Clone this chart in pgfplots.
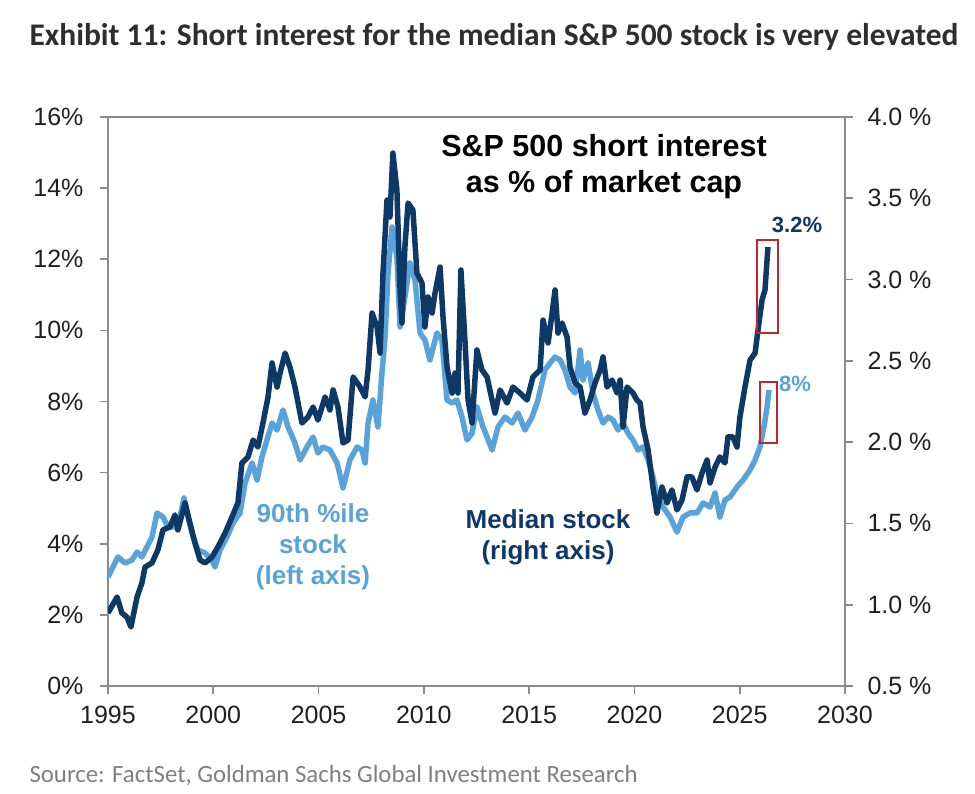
\documentclass[border=0pt]{standalone}
\usepackage{pgfplots}
\pgfplotsset{compat=1.18}
\usepackage{fontspec}
\setmainfont{Liberation Sans}
\newfontfamily\carlito{Carlito}
\definecolor{navy}{HTML}{0E3866}
\definecolor{lblue}{HTML}{5AA3DA}
\definecolor{boxred}{HTML}{C0272D}
\definecolor{axgray}{HTML}{8C8C8C}
\definecolor{titlegray}{HTML}{2E2E2E}
\definecolor{srcgray}{HTML}{7F7F7F}
\begin{document}
\begin{tikzpicture}
\path[use as bounding box] (-108pt,-107pt) rectangle (867pt,686pt);
\pgfplotsset{
  common/.style={
    scale only axis, width=737pt, height=569pt,
    xmin=1995, xmax=2030,
    axis line style={axgray, line width=1.6pt},
    major tick style={axgray, line width=1.6pt},
    tick align=outside, major tick length=8pt,
    ticklabel style={font=\fontsize{25}{25}\selectfont, text=black!88},
  }
}
\begin{axis}[common,
  ymin=0, ymax=16,
  xtick={1995,2000,2005,2010,2015,2020,2025,2030},
  xticklabels={1995,2000,2005,2010,2015,2020,2025,2030},
  ytick={0,2,4,6,8,10,12,14,16},
  yticklabels={0\%,2\%,4\%,6\%,8\%,10\%,12\%,14\%,16\%},
  xtick pos=bottom, ytick pos=left,
  yticklabel style={xshift=-13pt},
  xticklabel style={yshift=-9pt},
]
\addplot[lblue, line width=5.5pt, line join=round] coordinates {
(1995.00,3.065) (1995.47,3.627) (1995.81,3.459) (1996.14,3.543) (1996.38,3.768)
(1996.61,3.627) (1996.85,3.909) (1997.09,4.190) (1997.33,4.865) (1997.61,4.752)
(1997.85,4.471) (1998.18,4.471) (1998.42,4.752) (1998.61,5.287) (1998.80,4.752)
(1999.04,4.190) (1999.27,3.824) (1999.61,3.740) (1999.94,3.543) (2000.08,3.346)
(2000.32,3.824) (2000.65,4.190) (2000.94,4.584) (2001.27,4.865) (2001.51,5.708)
(2001.84,6.271) (2002.08,5.793) (2002.31,6.439) (2002.55,6.918) (2002.79,7.396)
(2003.03,7.199) (2003.31,7.761) (2003.55,7.283) (2003.88,6.833) (2004.12,6.355)
(2004.45,6.721) (2004.74,7.002) (2004.97,6.552) (2005.21,6.721) (2005.54,6.636)
(2005.88,6.271) (2006.16,5.568) (2006.49,6.355) (2006.83,6.721) (2007.06,6.636)
(2007.21,6.271) (2007.35,7.396) (2007.58,8.042) (2007.82,7.283) (2008.01,8.802)
(2008.15,9.730) (2008.30,11.614) (2008.49,12.907) (2008.72,12.063) (2008.87,10.095)
(2009.10,10.939) (2009.34,11.895) (2009.58,11.417) (2009.82,9.926) (2010.05,9.730)
(2010.29,9.167) (2010.62,9.926) (2010.86,9.730) (2011.10,8.042) (2011.34,7.958)
(2011.57,8.042) (2011.81,7.564) (2012.05,6.918) (2012.29,7.114) (2012.52,7.845)
(2012.81,7.283) (2013.00,7.002) (2013.24,6.636) (2013.52,7.283) (2013.85,7.564)
(2014.19,7.396) (2014.47,7.677) (2014.80,7.199) (2015.14,7.564) (2015.42,8.042)
(2015.75,8.886) (2015.99,9.083) (2016.23,9.251) (2016.47,9.167) (2016.70,8.886)
(2016.94,8.408) (2017.18,8.239) (2017.42,9.448) (2017.56,8.605) (2017.80,9.083)
(2018.03,8.239) (2018.27,7.761) (2018.51,7.396) (2018.75,7.564) (2018.98,7.480)
(2019.22,7.199) (2019.46,7.396) (2019.69,7.114) (2019.93,6.918) (2020.17,6.636)
(2020.41,6.721) (2020.65,6.355) (2020.88,5.877) (2021.07,5.371) (2021.36,5.033)
(2021.69,4.752) (2022.02,4.330) (2022.31,4.752) (2022.64,4.865) (2022.97,4.865)
(2023.26,5.146) (2023.59,5.033) (2023.83,5.427) (2024.06,4.752) (2024.30,5.230)
(2024.54,5.315) (2024.87,5.596) (2025.16,5.793) (2025.49,6.074) (2025.73,6.355)
(2025.96,6.721) (2026.15,7.283) (2026.30,7.845) (2026.39,8.324)
};
\draw[boxred, line width=1.5pt] (axis cs:2025.96,6.83) rectangle (axis cs:2026.77,8.55);
\node[text=lblue, font=\fontsize{22}{22}\selectfont\bfseries] at (axis cs:2027.63,8.49) {8\%};
\end{axis}
\begin{axis}[common,
  ymin=0.5, ymax=4.0,
  axis y line*=right, axis x line=none,
  ytick={0.5,1.0,1.5,2.0,2.5,3.0,3.5,4.0},
  yticklabels={0.5 \%,1.0 \%,1.5 \%,2.0 \%,2.5 \%,3.0 \%,3.5 \%,4.0 \%},
  yticklabel style={xshift=11pt},
]
\addplot[navy, line width=5.5pt, line join=round] coordinates {
(1995.00,0.949) (1995.43,1.047) (1995.66,0.949) (1995.90,0.924) (1996.09,0.863)
(1996.38,1.047) (1996.61,1.134) (1996.76,1.232) (1997.09,1.257) (1997.37,1.337)
(1997.61,1.460) (1997.94,1.478) (1998.18,1.552) (1998.32,1.460) (1998.66,1.626)
(1998.89,1.503) (1999.13,1.380) (1999.37,1.275) (1999.61,1.257) (1999.94,1.293)
(2000.22,1.355) (2000.56,1.441) (2000.89,1.540) (2001.17,1.626) (2001.36,1.872)
(2001.65,1.909) (2001.89,2.013) (2002.12,1.970) (2002.36,2.118) (2002.60,2.278)
(2002.79,2.487) (2003.03,2.339) (2003.17,2.425) (2003.41,2.548) (2003.64,2.462)
(2003.88,2.339) (2004.21,2.118) (2004.50,2.155) (2004.74,2.216) (2004.97,2.136)
(2005.31,2.278) (2005.54,2.198) (2005.69,2.321) (2005.92,2.216) (2006.16,1.995)
(2006.40,2.013) (2006.64,2.401) (2006.97,2.339) (2007.21,2.278) (2007.35,2.444)
(2007.54,2.794) (2007.78,2.708) (2007.92,2.548) (2008.06,3.040) (2008.25,3.489)
(2008.39,3.385) (2008.53,3.778) (2008.72,3.551) (2008.87,2.936) (2008.96,2.733)
(2009.10,3.200) (2009.25,3.471) (2009.48,3.428) (2009.67,3.040) (2009.91,2.979)
(2010.05,2.708) (2010.20,2.893) (2010.39,2.794) (2010.53,2.917) (2010.77,3.077)
(2010.91,2.770) (2011.10,2.462) (2011.34,2.302) (2011.48,2.425) (2011.62,2.302)
(2011.76,3.059) (2011.95,2.628) (2012.10,2.259) (2012.29,2.118) (2012.52,2.567)
(2012.76,2.444) (2013.00,2.401) (2013.24,2.259) (2013.38,2.179) (2013.62,2.321)
(2013.95,2.241) (2014.23,2.339) (2014.57,2.302) (2014.90,2.259) (2015.18,2.401)
(2015.52,2.444) (2015.66,2.751) (2015.90,2.610) (2016.09,2.794) (2016.23,2.936)
(2016.37,2.671) (2016.56,2.733) (2016.80,2.647) (2016.94,2.462) (2017.18,2.364)
(2017.42,2.339) (2017.65,2.179) (2017.89,2.259) (2018.13,2.364) (2018.37,2.444)
(2018.51,2.524) (2018.70,2.339) (2018.94,2.382) (2019.17,2.302) (2019.32,2.382)
(2019.46,2.093) (2019.65,2.339) (2019.93,2.302) (2020.12,2.259) (2020.27,2.241)
(2020.41,2.093) (2020.65,1.952) (2020.88,1.724) (2021.07,1.564) (2021.31,1.724)
(2021.55,1.626) (2021.78,1.706) (2022.02,1.583) (2022.26,1.644) (2022.50,1.786)
(2022.73,1.786) (2022.97,1.706) (2023.21,1.810) (2023.45,1.890) (2023.59,1.749)
(2023.83,1.847) (2024.06,1.909) (2024.30,1.872) (2024.44,2.032) (2024.68,2.032)
(2024.87,1.970) (2025.01,2.155) (2025.25,2.339) (2025.49,2.505) (2025.73,2.548)
(2025.87,2.690) (2026.06,2.874) (2026.20,2.936) (2026.34,3.200)
};
\draw[boxred, line width=1.5pt] (axis cs:2025.82,2.671) rectangle (axis cs:2026.81,3.243);
\node[text=navy, font=\fontsize{22}{22}\selectfont\bfseries] at (axis cs:2027.72,3.336) {3.2\%};
\end{axis}
% titles and annotations (absolute positions, pt relative to plot area origin)
\node[anchor=west, text=titlegray, font=\carlito\bfseries\fontsize{31.5}{31.5}\selectfont] at (-82pt,649pt) {Exhibit 11: Short interest for the median S\&P 500 stock is very elevated};
\node[anchor=west, text=srcgray, font=\carlito\fontsize{24.8}{24.8}\selectfont] at (-82pt,-89pt) {Source: FactSet, Goldman Sachs Global Investment Research};
\node[align=center, text=black, font=\bfseries\fontsize{30.5}{36}\selectfont] at (496pt,519pt) {S\&P 500 short interest\\as \% of market cap};
\node[align=center, text=lblue, font=\bfseries\fontsize{26}{31}\selectfont] at (205pt,139pt) {90th \%ile\\stock\\(left axis)};
\node[align=center, text=navy, font=\bfseries\fontsize{26}{31}\selectfont] at (440pt,149pt) {Median stock\\(right axis)};
\end{tikzpicture}
\end{document}
